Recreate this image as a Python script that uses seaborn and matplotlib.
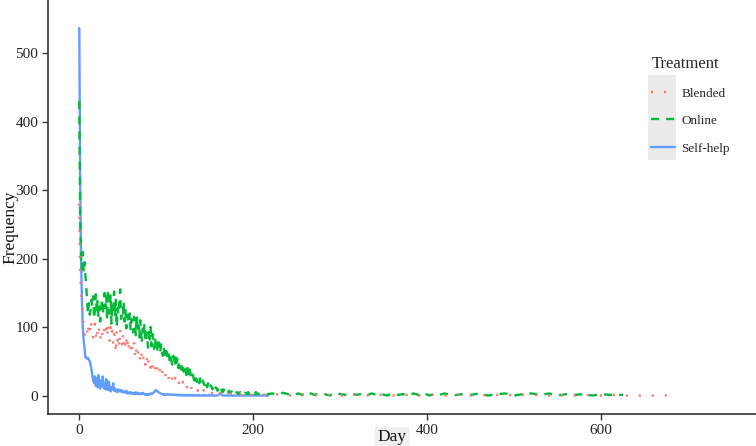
import numpy as np
import pandas as pd
import matplotlib
matplotlib.use("Agg")
import matplotlib.pyplot as plt
from matplotlib.lines import Line2D
from matplotlib.patches import Rectangle
import seaborn as sns

# ---------------- data ----------------
treatments = ["Blended", "Online", "Self-help"]
colors = {"Blended": "#F8766D", "Online": "#00BA38", "Self-help": "#619CFF"}

selfhelp_values = [
    537, 310, 200, 140, 100, 80, 70, 55, 56, 54,
    55, 52, 50, 45, 38, 30, 22, 18, 28, 14,
    25, 12, 30, 18, 10, 22, 15, 28, 11, 17,
    9, 24, 13, 8, 20, 10, 6, 12, 9, 18,
    7, 10, 6, 8, 5, 9, 7, 6, 8, 5,
    7, 6, 4, 5, 7, 3, 5, 4, 3, 5,
    3, 2, 4, 3, 2, 5, 3, 2, 4, 3,
    2, 3, 2, 4, 3, 2, 1, 2, 1, 2,
    1, 2, 3, 2, 3, 4, 5, 7, 8, 7,
    6, 5, 4, 3, 3, 2, 2, 1, 2, 1,
    1, 2, 2, 1, 1, 1, 2, 1, 1, 1,
    1, 1, 0, 1, 1, 1, 0, 1, 0, 1,
    0, 1, 0, 0, 1, 0, 0, 1, 0, 0,
    1, 0, 0, 0, 1, 0, 0, 0, 1, 0,
    0, 0, 0, 1, 0, 0, 0, 0, 0, 1,
    0, 0, 0, 0, 0, 0, 0, 0, 0, 0,
    1, 2, 3, 2, 1, 0, 0, 0, 0, 0,
    0, 0, 0, 0, 0, 0, 0, 0, 0, 0,
    0, 0, 0, 0, 0, 0, 0, 0, 0, 0,
    0, 0, 0, 0, 0, 0, 0, 0, 0, 0,
    0, 0, 0, 0, 0, 0, 0, 0, 0, 0,
    0, 0, 0, 0, 0, 0, 0, 0,
]

online_values = [
    430, 260, 200, 185, 210, 180, 195, 175, 160, 135,
    120, 135, 118, 125, 140, 130, 145, 112, 128, 148,
    120, 138, 115, 130, 108, 125, 142, 118, 135, 150,
    128, 145, 110, 155, 138, 120, 148, 105, 132, 125,
    152, 115, 140, 100, 128, 118, 135, 155, 112, 120,
    115, 138, 108, 125, 98, 118, 110, 105, 120, 95,
    112, 100, 92, 115, 105, 88, 118, 95, 102, 85,
    110, 92, 80, 98, 88, 105, 78, 92, 85, 70,
    96, 82, 100, 72, 90, 78, 68, 85, 72, 80,
    65, 78, 70, 62, 75, 68, 58, 72, 60, 55,
    65, 58, 52, 60, 48, 56, 50, 45, 58, 52,
    42, 60, 48, 55, 40, 50, 45, 38, 48, 42,
    35, 45, 38, 30, 42, 35, 28, 38, 30, 25,
    32, 28, 22, 30, 25, 20, 28, 22, 18, 25,
    20, 16, 22, 18, 14, 20, 15, 12, 18, 14,
    10, 15, 12, 9, 14, 10, 8, 12, 9, 7,
    11, 8, 6, 10, 7, 5, 9, 6, 5, 8,
    5, 4, 7, 5, 4, 6, 4, 3, 6, 4,
    3, 5, 3, 4, 2, 5, 3, 2, 4, 3,
    2, 4, 3, 2, 5, 3, 2, 4, 3, 2,
    4, 2, 3, 5, 2,
]
online_tail_days = [210, 216, 222, 228, 234, 240, 246, 252, 258, 264, 270, 276, 282,
                    288, 294, 300, 306, 312, 318, 324, 330, 336, 342, 348, 354, 360,
                    366, 372, 378, 384, 390, 396, 402, 408, 414, 420, 430, 440, 450,
                    460, 470, 480, 490, 500, 510, 520, 530, 540, 550, 560, 570, 580,
                    590, 600, 610, 625]
online_tail_values = [4, 2, 3, 1, 4, 2, 1, 3, 0, 4, 1, 3, 2,
                      0, 4, 2, 1, 3, 1, 2, 0, 3, 1, 2, 0, 3,
                      1, 2, 0, 3, 1, 4, 0, 2, 1, 3, 0, 2, 1,
                      3, 0, 2, 3, 0, 2, 3, 1, 3, 0, 2, 1, 2,
                      0, 2, 1, 1]

blended_values = [
    280, 180, 150, 130, 120, 100, 95, 85, 82, 90,
    105, 88, 95, 110, 100, 92, 85, 98, 105, 90,
    80, 95, 88, 100, 92, 78, 85, 95, 102, 88,
    90, 98, 85, 105, 92, 80, 100, 88, 95, 75,
    90, 85, 62, 95, 80, 88, 70, 98, 82, 75,
    90, 72, 85, 68, 78, 88, 65, 75, 80, 70,
    60, 72, 66, 78, 58, 70, 62, 55, 68, 60,
    52, 64, 56, 48, 60, 52, 45, 58, 50, 42,
    55, 48, 40, 50, 44, 38, 46, 40, 35, 44,
    38, 32, 40, 35, 30, 38, 32, 28, 35, 30,
    26, 33, 28, 24, 30, 26, 22, 28, 24, 20,
    26, 22, 18, 24, 20, 17, 22, 18, 15, 20,
    16, 13, 18, 14, 12, 16, 12, 10, 14, 11,
    9, 12, 10, 8, 11, 9, 7, 10, 8, 6,
    9, 7, 5, 8, 6, 5, 7, 5, 4, 6,
    5, 4, 5, 3, 4, 5, 3, 4, 2, 4,
    3, 2, 4, 3, 2, 3, 2, 3, 2, 1,
    3, 2, 1, 2, 3, 1, 2, 1, 2, 1,
    2, 1, 2, 1, 1, 2, 1, 2, 1, 1,
    2, 1, 1, 2, 1, 1, 2, 1, 1, 1,
]
blended_tail_days = [205, 212, 219, 226, 233, 240, 247, 254, 261, 268, 275, 282, 289,
                     296, 303, 310, 320, 330, 340, 350, 360, 370, 380, 390, 400, 410,
                     420, 430, 440, 450, 460, 470, 480, 490, 500, 510, 520, 530, 540,
                     550, 560, 570, 580, 590, 600, 610, 620, 630, 640, 650, 660, 670,
                     683]
blended_tail_values = [2, 1, 1, 2, 1, 0, 1, 2, 1, 1, 0, 1, 1,
                       1, 0, 1, 1, 0, 1, 1, 0, 1, 1, 0, 1, 1,
                       0, 1, 1, 0, 1, 0, 1, 1, 0, 1, 0, 1, 0,
                       1, 0, 0, 1, 0, 0, 1, 0, 0, 0, 0, 0, 0,
                       0]

frames = []
frames.append(pd.DataFrame({
    "Day": list(range(len(blended_values))) + blended_tail_days,
    "Frequency": blended_values + blended_tail_values,
    "Treatment": "Blended"}))
frames.append(pd.DataFrame({
    "Day": list(range(len(online_values))) + online_tail_days,
    "Frequency": online_values + online_tail_values,
    "Treatment": "Online"}))
frames.append(pd.DataFrame({
    "Day": list(range(len(selfhelp_values))),
    "Frequency": selfhelp_values,
    "Treatment": "Self-help"}))
df = pd.concat(frames, ignore_index=True)

# ---------------- plot ----------------
sns.set_theme(style="white")
plt.rcParams["font.family"] = ["Liberation Serif", "DejaVu Serif"]

W, H = 756, 446
fig = plt.figure(figsize=(W / 100, H / 100), dpi=100)
ax = fig.add_axes([48 / W, (H - 414) / H, (W - 48) / W, 414 / H])

LW = 1.7
dot_dash = (0.9, 4.6)
line_dash = (3.4, 3.0)
dashes = {"Blended": dot_dash, "Online": line_dash, "Self-help": ""}
sns.lineplot(data=df, x="Day", y="Frequency", hue="Treatment", style="Treatment",
             palette=colors, dashes=dashes, hue_order=treatments[::-1],
             style_order=treatments[::-1], linewidth=LW, ax=ax, legend=False,
             estimator=None, sort=False)

ax.set_xlim(-36, 778)
ax.set_ylim(-27, 578)
ax.set_xticks([0, 200, 400, 600])
ax.set_yticks([0, 100, 200, 300, 400, 500])
for s in ["top", "right"]:
    ax.spines[s].set_visible(False)
for s in ["left", "bottom"]:
    ax.spines[s].set_color("#333333")
    ax.spines[s].set_linewidth(1.2)
ax.tick_params(axis="both", which="both", length=4, width=1, color="#333333",
               labelsize=11, labelcolor="#222222", pad=3, left=True, bottom=True)
ax.set_xlabel("")
ax.set_ylabel("")
ax.grid(False)

fig.text(392 / W, 1 - 437 / H, "Day", fontsize=12.5, color="#111111",
         ha="center", va="center",
         bbox=dict(facecolor="#f0f0f0", edgecolor="none", pad=1.5))
fig.text(10 / W, 1 - 227 / H, "Frequency", fontsize=12.5, color="#111111",
         ha="center", va="center", rotation=90)

# legend
key_bg = Rectangle((648 / W, 1 - 160 / H), 28 / W, 85 / H, transform=fig.transFigure,
                   facecolor="#ebebeb", edgecolor="none", zorder=0)
fig.patches.append(key_bg)
handles = [
    Line2D([], [], color=colors["Blended"], lw=LW, dashes=dot_dash),
    Line2D([], [], color=colors["Online"], lw=LW, dashes=line_dash),
    Line2D([], [], color=colors["Self-help"], lw=LW),
]
leg = fig.legend(handles, treatments, title="Treatment", loc="upper left",
                 bbox_to_anchor=(646 / W, 1 - 51 / H), frameon=False,
                 fontsize=9.5, title_fontsize=12, handlelength=1.8,
                 handletextpad=0.5, labelspacing=1.15, borderaxespad=0)
leg._legend_box.align = "left"

fig.savefig("out.png", dpi=100)
